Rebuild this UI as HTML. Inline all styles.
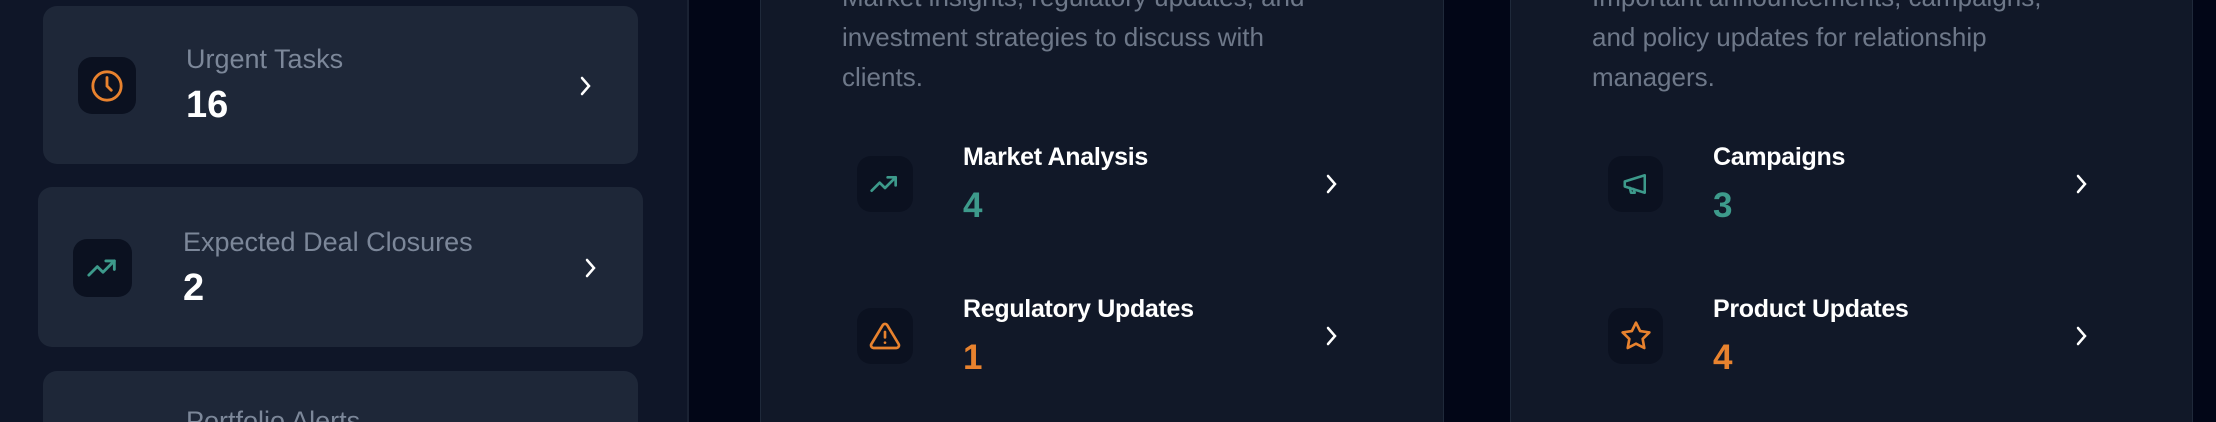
<!DOCTYPE html>
<html><head><meta charset="utf-8"><style>
*{margin:0;padding:0;box-sizing:border-box}
html,body{width:2216px;height:422px;overflow:hidden}
body{background:#020617;font-family:"Liberation Sans",sans-serif;position:relative}
.abs{position:absolute}
.left{left:0;top:0;width:689px;height:422px;background:#0f1628;overflow:hidden}
.kcard{background:#1e2738;border-radius:14px}
.ibox{background:#0b1120;border-radius:14px;display:flex;align-items:center;justify-content:center}
.ktitle{color:#7c8799;font-size:27px;white-space:nowrap}
.kval{color:#fff;font-size:38px;font-weight:bold}
.panel{background:#111828;border-left:1.5px solid #1f293a;border-right:1.5px solid #1f293a;overflow:hidden}
.desc{color:#6e7889;font-size:26px;line-height:40px;white-space:nowrap}
.ititle{color:#fff;font-size:25px;font-weight:bold;white-space:nowrap;letter-spacing:-0.3px}
.ival{font-size:35px;font-weight:bold}
</style></head><body>
<div class="abs left">
 <div class="abs kcard" style="left:43px;top:6px;width:595px;height:158px">
  <div class="abs ibox" style="left:35px;top:51px;width:58px;height:57px"><svg width="34" height="34" viewBox="0 0 24 24" fill="none" stroke="#e8822e" stroke-width="2" stroke-linecap="round"><circle cx="12" cy="12" r="10"/><path d="M12 6v6l3 3"/></svg></div>
  <div class="abs ktitle" style="left:143px;top:38px">Urgent Tasks</div>
  <div class="abs kval" style="left:143px;top:78px">16</div>
  <svg class="abs" style="left:535px;top:69px" width="16" height="22" viewBox="0 0 16 22"><path d="M4 3l7 8-7 8" stroke="#fff" stroke-width="2.5" fill="none" stroke-linecap="round"/></svg>
 </div>
 <div class="abs kcard" style="left:38px;top:187px;width:605px;height:160px">
  <div class="abs ibox" style="left:35px;top:52px;width:59px;height:58px"><svg width="34" height="34" viewBox="0 0 24 24" fill="none" stroke="#3d9a8b" stroke-width="2" stroke-linecap="round" stroke-linejoin="round"><path d="M2 17l6-6 4 4 8-8"/><path d="M14 7h6v6"/></svg></div>
  <div class="abs ktitle" style="left:145px;top:40px">Expected Deal Closures</div>
  <div class="abs kval" style="left:145px;top:80px">2</div>
  <svg class="abs" style="left:545px;top:70px" width="16" height="22" viewBox="0 0 16 22"><path d="M4 3l7 8-7 8" stroke="#fff" stroke-width="2.5" fill="none" stroke-linecap="round"/></svg>
 </div>
 <div class="abs kcard" style="left:43px;top:371px;width:595px;height:51px;border-radius:14px 14px 0 0;overflow:hidden">
  <div class="abs ktitle" style="left:143px;top:35px">Portfolio Alerts</div>
 </div>
</div>
<div class="abs" style="left:687px;top:0;width:2px;height:422px;background:#1a2233"></div>

<div class="abs panel" style="left:760px;top:0;width:684px;height:422px">
 <div class="abs desc" style="left:81px;top:-23px">Market insights, regulatory updates, and<br>investment strategies to discuss with<br>clients.</div>
 <div class="abs" style="left:0;top:130px;width:684px;height:110px">
  <div class="abs ibox" style="left:96px;top:26px;width:56px;height:56px"><svg width="32" height="32" viewBox="0 0 24 24" fill="none" stroke="#3d9a8b" stroke-width="2" stroke-linecap="round" stroke-linejoin="round"><path d="M2 17l6-6 4 4 8-8"/><path d="M14 7h6v6"/></svg></div>
  <div class="abs ititle" style="left:202px;top:13px">Market Analysis</div>
  <div class="abs ival" style="left:202px;top:56px;color:#3d9a8b">4</div>
  <svg class="abs" style="left:563px;top:43px" width="16" height="22" viewBox="0 0 16 22"><path d="M4 3l7 8-7 8" stroke="#fff" stroke-width="2.5" fill="none" stroke-linecap="round"/></svg>
 </div>
 <div class="abs" style="left:0;top:282px;width:684px;height:110px">
  <div class="abs ibox" style="left:96px;top:26px;width:56px;height:56px"><svg width="32" height="32" viewBox="0 0 24 24" fill="none" stroke="#e8822e" stroke-width="2" stroke-linecap="round" stroke-linejoin="round"><path d="M10.3 3.9L1.8 18a2 2 0 0 0 1.7 3h17a2 2 0 0 0 1.7-3L13.7 3.9a2 2 0 0 0-3.4 0z"/><path d="M12 9v4M12 17h.01"/></svg></div>
  <div class="abs ititle" style="left:202px;top:13px">Regulatory Updates</div>
  <div class="abs ival" style="left:202px;top:56px;color:#e8822e">1</div>
  <svg class="abs" style="left:563px;top:43px" width="16" height="22" viewBox="0 0 16 22"><path d="M4 3l7 8-7 8" stroke="#fff" stroke-width="2.5" fill="none" stroke-linecap="round"/></svg>
 </div>
</div>

<div class="abs panel" style="left:1510px;top:0;width:683px;height:422px">
 <div class="abs desc" style="left:81px;top:-23px">Important announcements, campaigns,<br>and policy updates for relationship<br>managers.</div>
 <div class="abs" style="left:0;top:130px;width:683px;height:110px">
  <div class="abs ibox" style="left:97px;top:26px;width:55px;height:56px"><svg width="30" height="30" viewBox="0 0 24 24" fill="none" stroke="#3d9a8b" stroke-width="2" stroke-linecap="round" stroke-linejoin="round"><path d="M3 10v4l16 5V5z"/><path d="M7 15l1 4h3l-1-3"/></svg></div>
  <div class="abs ititle" style="left:202px;top:13px">Campaigns</div>
  <div class="abs ival" style="left:202px;top:56px;color:#3d9a8b">3</div>
  <svg class="abs" style="left:563px;top:43px" width="16" height="22" viewBox="0 0 16 22"><path d="M4 3l7 8-7 8" stroke="#fff" stroke-width="2.5" fill="none" stroke-linecap="round"/></svg>
 </div>
 <div class="abs" style="left:0;top:282px;width:683px;height:110px">
  <div class="abs ibox" style="left:97px;top:26px;width:55px;height:56px"><svg width="32" height="32" viewBox="0 0 24 24" fill="none" stroke="#e8822e" stroke-width="2" stroke-linejoin="round"><path d="M12 2l3.1 6.3 6.9 1-5 4.9 1.2 6.8L12 17.8 5.8 21l1.2-6.8-5-4.9 6.9-1z"/></svg></div>
  <div class="abs ititle" style="left:202px;top:13px">Product Updates</div>
  <div class="abs ival" style="left:202px;top:56px;color:#e8822e">4</div>
  <svg class="abs" style="left:563px;top:43px" width="16" height="22" viewBox="0 0 16 22"><path d="M4 3l7 8-7 8" stroke="#fff" stroke-width="2.5" fill="none" stroke-linecap="round"/></svg>
 </div>
</div>
</body></html>
